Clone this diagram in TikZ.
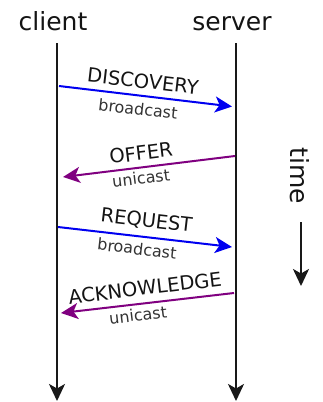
\documentclass[tikz,border=0pt]{standalone}
\usepackage{fontspec}
\setmainfont{DejaVu Sans}
\usetikzlibrary{arrows.meta}
\definecolor{msgblue}{RGB}{0,0,240}
\definecolor{msgpurple}{RGB}{128,0,128}
\definecolor{txt}{RGB}{20,20,20}
\begin{document}
\begin{tikzpicture}[x=1pt,y=-1pt,
  tip/.style={-{Stealth[length=17pt,width=16pt,inset=4.5pt]}},
  lifeline/.style={tip, line width=2pt, draw=black!90},
  msg/.style={tip, line width=2pt},
  big/.style={font=\fontsize{25}{28}\selectfont, text=txt, inner sep=0pt},
  lab/.style={font=\fontsize{19.5}{22}\selectfont, text=txt, inner sep=0pt},
  sub/.style={font=\fontsize{16}{18}\selectfont, text=black!80, inner sep=0pt}]
\useasboundingbox (0,0) rectangle (322,402);
% headers
\node[big, anchor=base] (client) at (53,30) {client};
\node[big, anchor=base] (server) at (232,30) {server};
% lifelines
\coordinate (cTop) at (57,43);
\coordinate (cBot) at (57,401);
\coordinate (sTop) at (236,43);
\coordinate (sBot) at (236,401);
\draw[lifeline] (cTop) -- (cBot);
\draw[lifeline] (sTop) -- (sBot);
% messages
\coordinate (d1) at (59,86);   \coordinate (d2) at (232,106.5);
\coordinate (o1) at (235,156); \coordinate (o2) at (63,177);
\coordinate (r1) at (58,227);  \coordinate (r2) at (232,247);
\coordinate (a1) at (234,293); \coordinate (a2) at (61,313);
\draw[msg, draw=msgblue, fill=msgblue] (d1) -- (d2);
\draw[msg, draw=msgpurple, fill=msgpurple] (o1) -- (o2);
\draw[msg, draw=msgblue, fill=msgblue] (r1) -- (r2);
\draw[msg, draw=msgpurple, fill=msgpurple] (a1) -- (a2);
% labels
\node[lab, rotate=-6.6] (ldisc) at (143,81) {DISCOVERY};
\node[sub, rotate=-6.6] (bdisc) at (138,109) {broadcast};
\node[lab, rotate=7] (loffer) at (141,153) {OFFER};
\node[sub, rotate=7] (uoffer) at (141,178) {unicast};
\node[lab, rotate=-6.6] (lreq) at (146.5,221) {REQUEST};
\node[sub, rotate=-6.6] (breq) at (137,248.5) {broadcast};
\node[lab, rotate=6.85] (lack) at (145,288) {ACKNOWLEDGE};
\node[sub, rotate=6.85] (uack) at (138,315) {unicast};
% time
\node[big, rotate=-90] (time) at (300,176) {time};
\coordinate (t1) at (301,222);
\coordinate (t2) at (301,286);
\draw[lifeline] (t1) -- (t2);
\end{tikzpicture}
\end{document}
